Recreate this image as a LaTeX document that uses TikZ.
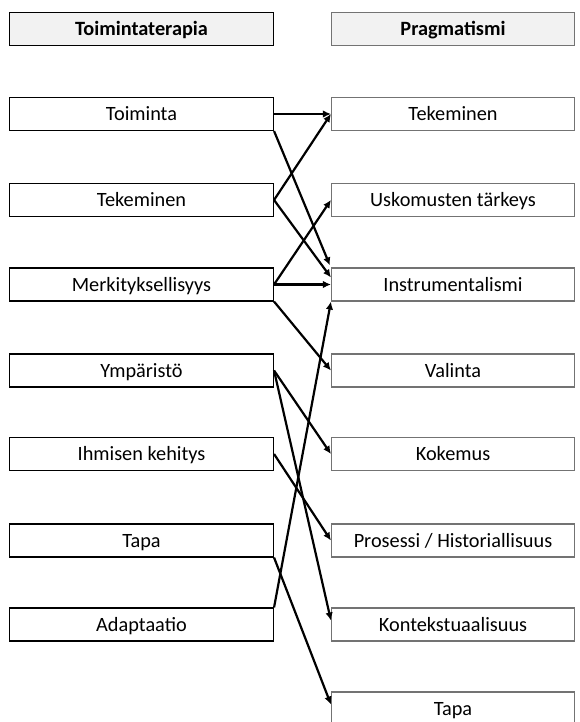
\documentclass[tikz,border=0pt]{standalone}
\usepackage{fontspec}
\setmainfont{Carlito}
\usetikzlibrary{arrows.meta}
\begin{document}
\begin{tikzpicture}[x=1pt,y=-1pt,
  boxtext/.style={font=\fontsize{20.3}{24}\selectfont, inner sep=0pt,
    minimum height=33pt, text height=13.2pt, text depth=0pt},
  lbox/.style={boxtext, draw=black, line width=1.1pt, minimum width=264pt},
  rbox/.style={boxtext, draw=black!55, line width=1.1pt, minimum width=243pt},
  lhead/.style={lbox, fill=black!5, font=\fontsize{20.3}{24}\selectfont\bfseries},
  rhead/.style={rbox, fill=black!5, font=\fontsize{20.3}{24}\selectfont\bfseries},
  link/.style={-{Latex[length=8pt,width=7.5pt]}, line width=2.2pt, black}]
\useasboundingbox (0,0) rectangle (579,722);

% column headers
\node[lhead] (hl) at (141.5,29) {Toimintaterapia};
\node[rhead] (hr) at (453,29) {Pragmatismi};

% occupational therapy concepts
\node[lbox] (l1) at (141.5,114)   {Toiminta};
\node[lbox] (l2) at (141.5,200)   {Tekeminen};
\node[lbox] (l3) at (141.5,284.5) {Merkityksellisyys};
\node[lbox] (l4) at (141.5,370.5) {Ympäristö};
\node[lbox] (l5) at (141.5,454)   {Ihmisen kehitys};
\node[lbox] (l6) at (141.5,540.5) {Tapa};
\node[lbox] (l7) at (141.5,624.5) {Adaptaatio};

% pragmatist concepts
\node[rbox] (r1) at (453,114)   {Tekeminen};
\node[rbox] (r2) at (453,200)   {Uskomusten tärkeys};
\node[rbox] (r3) at (453,284.5) {Instrumentalismi};
\node[rbox] (r4) at (453,370.5) {Valinta};
\node[rbox] (r5) at (453,454)   {Kokemus};
\node[rbox] (r6) at (453,540.5) {Prosessi / Historiallisuus};
\node[rbox] (r7) at (453,624.5) {Kontekstuaalisuus};
\node[rbox] (r8) at (453,708.5) {Tapa};

% connections
\draw[link] (l1.east) -- (r1.west);
\draw[link] (l1.south east) -- ([xshift=-1pt,yshift=2pt]r3.north west);
\draw[link] (l2.east) -- (r1.west);
\draw[link] (l2.east) -- ([yshift=7pt]r3.west);
\draw[link] (l3.east) -- (r2.west);
\draw[link] (l3.east) -- (r3.west);
\draw[link] (l3.south east) -- (r4.west);
\draw[link] (l4.east) -- (r5.west);
\draw[link] (l4.east) -- ([yshift=4pt]r7.west);
\draw[link] (l5.east) -- (r6.west);
\draw[link] (l6.south east) -- ([yshift=4pt]r8.west);
\draw[link] (l7.north east) -- (r3.south west);
\end{tikzpicture}
\end{document}
